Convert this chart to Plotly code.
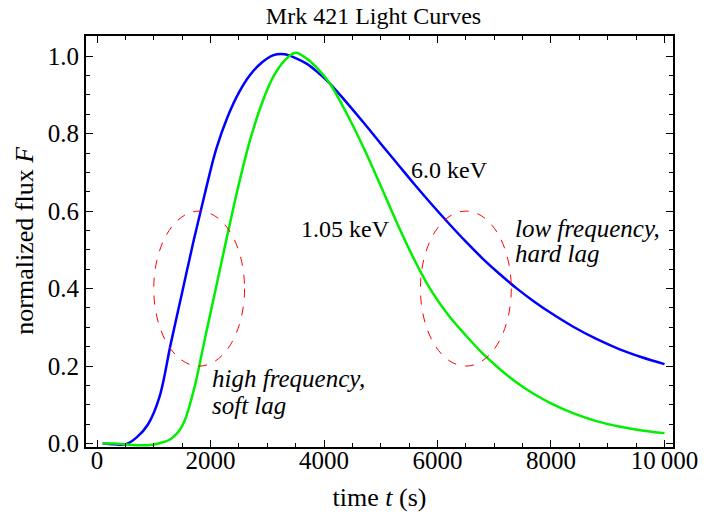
import plotly.graph_objects as go

# ---- data ----
t = [100, 300, 500, 700, 900, 1100, 1300, 1500, 1700, 1900, 2100, 2300, 2500, 2700,
     2900, 3100, 3300, 3500, 3700, 3900, 4100, 4400, 4700, 5000, 5300, 5600, 5900,
     6200, 6500, 6800, 7100, 7400, 7700, 8000, 8400, 8800, 9200, 9600, 10000]

flux_6keV = [0.000, -0.002, -0.002, 0.016, 0.050, 0.120, 0.258, 0.390, 0.522, 0.645,
             0.760, 0.843, 0.906, 0.952, 0.983, 1.002, 1.005, 0.995, 0.980, 0.957,
             0.930, 0.880, 0.828, 0.774, 0.721, 0.668, 0.617, 0.568, 0.521, 0.477,
             0.437, 0.400, 0.367, 0.337, 0.301, 0.270, 0.244, 0.223, 0.205]

flux_1keV = [0.000, 0.000, -0.002, -0.004, -0.004, 0.001, 0.012, 0.045, 0.135, 0.270,
             0.405, 0.540, 0.670, 0.785, 0.876, 0.945, 0.988, 1.009, 0.993, 0.966,
             0.930, 0.852, 0.763, 0.665, 0.565, 0.472, 0.392, 0.330, 0.279, 0.232,
             0.192, 0.157, 0.128, 0.104, 0.078, 0.058, 0.044, 0.034, 0.027]

x_ticks = [0, 2000, 4000, 6000, 8000, 10000]
x_ticktext = ["0", "2000", "4000", "6000", "8000", "10\u2009000"]
y_ticks = [0.0, 0.2, 0.4, 0.6, 0.8, 1.0]
y_ticktext = ["0.0", "0.2", "0.4", "0.6", "0.8", "1.0"]

# ellipse regions (t_min, t_max, F_min, F_max)
ellipses = [(1000, 2600, 0.2, 0.6), (5700, 7300, 0.2, 0.6)]

FONT = "Liberation Serif"

fig = go.Figure()
fig.add_trace(go.Scatter(x=t, y=flux_6keV, mode="lines", name="6.0 keV",
                         line=dict(color="#0000FF", width=2.5, shape="spline", smoothing=1.0)))
fig.add_trace(go.Scatter(x=t, y=flux_1keV, mode="lines", name="1.05 keV",
                         line=dict(color="#00F000", width=2.5, shape="spline", smoothing=1.0)))

for (x0, x1, y0, y1) in ellipses:
    fig.add_shape(type="circle", xref="x", yref="y", x0=x0, x1=x1, y0=y0, y1=y1,
                  line=dict(color="#FF0000", width=1, dash="dash"))

ann_font = dict(family=FONT, size=24, color="black")
ital_font = dict(family=FONT, size=25, color="black")
fig.add_annotation(x=6220, y=0.705, text="6.0 keV", showarrow=False, font=ann_font)
fig.add_annotation(x=4370, y=0.555, text="1.05 keV", showarrow=False, font=ann_font)
fig.add_annotation(x=7325, y=0.556, text="<i>low frequency,</i>",
                   showarrow=False, xanchor="left", font=ital_font)
fig.add_annotation(x=7325, y=0.491, text="<i>hard lag</i>",
                   showarrow=False, xanchor="left", font=ital_font)
fig.add_annotation(x=1991, y=0.169, text="<i>high frequency,</i>",
                   showarrow=False, xanchor="left", font=ital_font)
fig.add_annotation(x=1991, y=0.099, text="<i>soft lag</i>",
                   showarrow=False, xanchor="left", font=ital_font)

# y-axis title placed as rotated text
fig.add_annotation(xref="paper", yref="paper", x=-0.105, y=0.503, textangle=-90,
                   xanchor="center", yanchor="middle",
                   text="normalized flux <i>F</i>", showarrow=False,
                   font=dict(family=FONT, size=26, color="black"))

axis_common = dict(showgrid=False, zeroline=False, showline=True, linecolor="black",
                   linewidth=2, mirror="allticks", ticks="inside", ticklen=7,
                   tickwidth=1, tickcolor="black", automargin=False,
                   tickfont=dict(family=FONT, size=25, color="black"))

fig.update_xaxes(range=[-194, 10150], tickvals=x_ticks, ticktext=x_ticktext,
                 ticklabelstandoff=-10,
                 minor=dict(dtick=500, tick0=0, ticks="inside", ticklen=4, tickcolor="black"),
                 title=dict(text="time <i>t</i> (s)", font=dict(family=FONT, size=26, color="black")),
                 **axis_common)
fig.update_yaxes(range=[-0.0088, 1.052], tickvals=y_ticks, ticktext=y_ticktext,
                 minor=dict(dtick=0.05, tick0=0, ticks="inside", ticklen=4, tickcolor="black"),
                 **axis_common)

fig.update_layout(
    width=721, height=512,
    margin=dict(l=86, r=48, t=36, b=65),
    paper_bgcolor="white", plot_bgcolor="white",
    showlegend=False,
    title=dict(text="Mrk 421 Light Curves", x=0.518, xanchor="center", y=0.97, yanchor="middle",
               font=dict(family=FONT, size=24, color="black")),
)

fig.write_html("out.html")
